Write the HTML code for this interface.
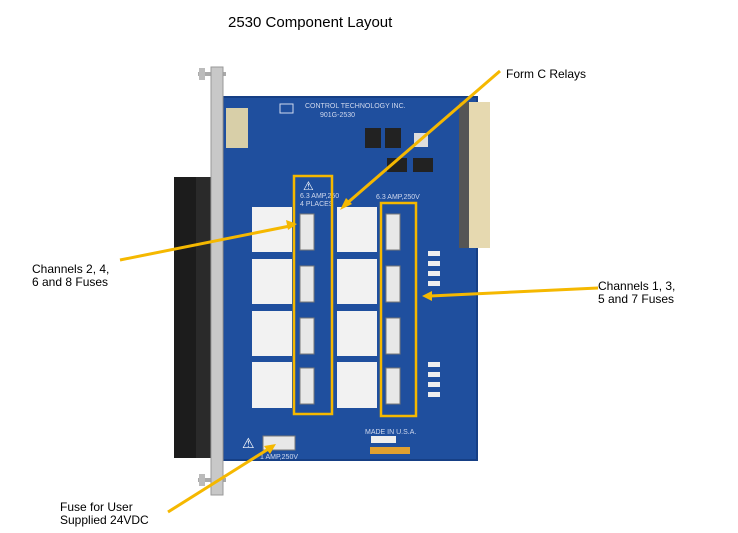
<!DOCTYPE html>
<html><head><style>
html,body{margin:0;padding:0;background:#fff;}
svg{display:block;}
text{font-family:"Liberation Sans",sans-serif;}
</style></head><body>
<svg width="738" height="533" viewBox="0 0 738 533" xmlns="http://www.w3.org/2000/svg">
<rect width="738" height="533" fill="#fff"/>
<text x="228" y="27" font-size="15" fill="#000">2530 Component Layout</text>
<!-- black connector -->
<rect x="174" y="177" width="38" height="281" fill="#1c1c1c"/>
<rect x="196" y="177" width="16" height="281" fill="#2a2a2a"/>
<!-- screws -->
<rect x="198" y="72" width="28" height="4" fill="#aaa"/>
<rect x="198" y="478" width="28" height="4" fill="#aaa"/>
<rect x="199" y="68" width="6" height="12" fill="#bbb"/>
<rect x="199" y="474" width="6" height="12" fill="#bbb"/>
<!-- board -->
<rect x="223" y="97" width="254" height="363" fill="#1f4f9e"/>
<rect x="223" y="97" width="254" height="363" fill="none" stroke="#163f85" stroke-width="2"/>
<!-- front panel -->
<rect x="211" y="67" width="12" height="428" fill="#c8c8c8" stroke="#999" stroke-width="1"/>
<!-- header top-left -->
<rect x="226" y="108" width="22" height="40" fill="#d8cfa8"/>
<!-- right edge connector -->
<rect x="459" y="102" width="31" height="146" fill="#e6d9b0"/>
<rect x="459" y="102" width="10" height="146" fill="#555"/>
<text x="305" y="108" font-size="7" fill="#cfd8ee">CONTROL TECHNOLOGY INC.</text>
<text x="320" y="117" font-size="7" fill="#cfd8ee">901G-2530</text>
<rect x="280" y="104" width="13" height="9" fill="none" stroke="#cfd8ee"/>
<!-- ICs -->
<rect x="365" y="128" width="16" height="20" fill="#222"/>
<rect x="385" y="128" width="16" height="20" fill="#222"/>
<rect x="414" y="133" width="14" height="14" fill="#ddd"/>
<rect x="387" y="158" width="20" height="14" fill="#222"/>
<rect x="413" y="158" width="20" height="14" fill="#222"/>
<!-- relays -->
<g fill="#f2f2f2">
<rect x="252" y="207" width="40" height="45"/><rect x="252" y="259" width="40" height="45"/>
<rect x="252" y="311" width="40" height="45"/><rect x="252" y="362" width="40" height="46"/>
<rect x="337" y="207" width="40" height="45"/><rect x="337" y="259" width="40" height="45"/>
<rect x="337" y="311" width="40" height="45"/><rect x="337" y="362" width="40" height="46"/>
</g>
<!-- fuses -->
<g fill="#e8e8e8" stroke="#777">
<rect x="300" y="214" width="14" height="36"/><rect x="300" y="266" width="14" height="36"/>
<rect x="300" y="318" width="14" height="36"/><rect x="300" y="368" width="14" height="36"/>
<rect x="386" y="214" width="14" height="36"/><rect x="386" y="266" width="14" height="36"/>
<rect x="386" y="318" width="14" height="36"/><rect x="386" y="368" width="14" height="36"/>
<rect x="263" y="436" width="32" height="14"/>
</g>
<!-- LEDs -->
<g fill="#eee"><rect x="428" y="251" width="12" height="5"/><rect x="428" y="261" width="12" height="5"/><rect x="428" y="271" width="12" height="5"/><rect x="428" y="281" width="12" height="5"/>
<rect x="428" y="362" width="12" height="5"/><rect x="428" y="372" width="12" height="5"/><rect x="428" y="382" width="12" height="5"/><rect x="428" y="392" width="12" height="5"/></g>
<text x="300" y="198" font-size="7" fill="#cfd8ee">6.3 AMP,250</text>
<text x="300" y="206" font-size="7" fill="#cfd8ee">4 PLACES</text>
<text x="376" y="199" font-size="7" fill="#cfd8ee">6.3 AMP,250V</text>
<text x="365" y="434" font-size="7" fill="#cfd8ee">MADE IN U.S.A.</text>
<rect x="371" y="436" width="25" height="7" fill="#eee"/>
<rect x="370" y="447" width="40" height="7" fill="#e0a030"/>
<text x="260" y="459" font-size="7" fill="#cfd8ee">1 AMP,250V</text>
<text x="242" y="448" font-size="14" fill="#fff">⚠</text>
<text x="303" y="190" font-size="12" fill="#fff">⚠</text>
<!-- yellow boxes -->
<rect x="294" y="176" width="38" height="238" fill="none" stroke="#f5b800" stroke-width="2.5"/>
<rect x="381" y="203" width="35" height="213" fill="none" stroke="#f5b800" stroke-width="2.5"/>
<!-- arrows -->
<g stroke="#f5b800" stroke-width="3" fill="none">
<line x1="500" y1="71" x2="345" y2="205"/>
<line x1="120" y1="260" x2="290" y2="226"/>
<line x1="598" y1="288" x2="430" y2="296"/>
<line x1="168" y1="512" x2="270" y2="448"/>
</g>
<g fill="#f5b800">
<polygon points="340,210 346,198 352,204"/>
<polygon points="297,224 286,220 288,230"/>
<polygon points="422,296 432,291 432,301"/>
<polygon points="276,444 264,446 270,454"/>
</g>
<text x="506" y="78" font-size="12">Form C Relays</text>
<text x="32" y="273" font-size="12">Channels 2, 4,</text>
<text x="32" y="286" font-size="12">6 and 8 Fuses</text>
<text x="598" y="290" font-size="12">Channels 1, 3,</text>
<text x="598" y="303" font-size="12">5 and 7 Fuses</text>
<text x="60" y="511" font-size="12">Fuse for User</text>
<text x="60" y="524" font-size="12">Supplied 24VDC</text>
</svg>
</body></html>
